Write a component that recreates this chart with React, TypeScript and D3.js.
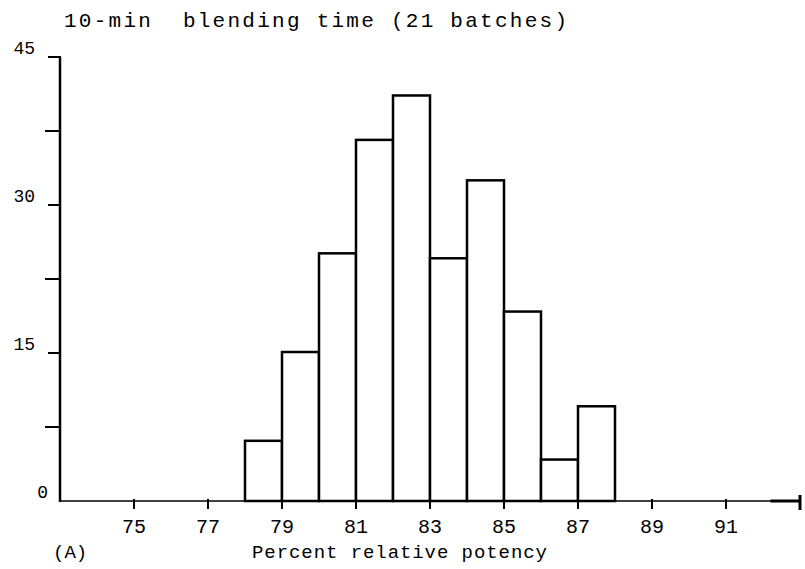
import React from "react";
import * as d3 from "d3";

const binStarts = [78, 79, 80, 81, 82, 83, 84, 85, 86, 87];
const percents = [6.1, 15.1, 25.1, 36.6, 41.1, 24.6, 32.5, 19.2, 4.2, 9.6];
const xTickValues = [75, 77, 79, 81, 83, 85, 87, 89, 91];
const yTickLabels = [0, 15, 30, 45];
const yMinorTicks = [7.5, 22.5, 37.5];
const titleText = "10-min  blending time (21 batches)";
const xAxisTitle = "Percent relative potency";
const panelLabel = "(A)";

const W = 805;
const H = 569;
const FONT = "'Liberation Mono', 'DejaVu Sans Mono', monospace";

export default function App() {
  const x = d3.scaleLinear().domain([73, 93]).range([60, 800]);
  const y = d3.scaleLinear().domain([0, 45]).range([501, 57]);
  const bins = binStarts.map((b, i) => ({ x0: b, x1: b + 1, v: percents[i] }));

  return (
    <svg
      width={W}
      height={H}
      viewBox={`0 0 ${W} ${H}`}
      style={{ position: "absolute", left: 0, top: 0, background: "#fff" }}
    >
      <rect x={0} y={0} width={W} height={H} fill="#fff" />
      <text
        x={64}
        y={27}
        fontFamily={FONT}
        fontSize={21}
        textLength={503}
        lengthAdjust="spacing"
        fill="#000"
        xmlSpace="preserve"
        style={{ whiteSpace: "pre" }}
      >
        {titleText}
      </text>

      {/* bars */}
      {bins.map((d, i) => (
        <rect
          key={i}
          x={x(d.x0)}
          y={y(d.v)}
          width={x(d.x1) - x(d.x0)}
          height={y(0) - y(d.v)}
          fill="#fff"
          stroke="#000"
          strokeWidth={2.5}
        />
      ))}

      {/* x axis */}
      <line x1={x(73)} x2={x(93)} y1={y(0)} y2={y(0)} stroke="#000" strokeWidth={1.6} />
      <line x1={x(92.2)} x2={x(93)} y1={y(0)} y2={y(0)} stroke="#000" strokeWidth={3} />
      <line x1={x(93)} x2={x(93)} y1={y(0) - 6} y2={y(0) + 9} stroke="#000" strokeWidth={3} />
      {xTickValues.map((t) => (
        <g key={t}>
          <line x1={x(t)} x2={x(t)} y1={y(0) - 2} y2={y(0) + 8} stroke="#000" strokeWidth={2} />
          <text
            x={x(t)}
            y={533}
            textAnchor="middle"
            fontFamily={FONT}
            fontSize={20}
            fill="#000"
          >
            {t}
          </text>
        </g>
      ))}
      <text x={53} y={558} fontFamily={FONT} fontSize={19} fill="#000">
        {panelLabel}
      </text>
      <text
        x={252}
        y={558}
        fontFamily={FONT}
        fontSize={19}
        textLength={295}
        lengthAdjust="spacing"
        fill="#000"
      >
        {xAxisTitle}
      </text>

      {/* y axis */}
      <line x1={60} x2={60} y1={y(45)} y2={y(0) + 1} stroke="#000" strokeWidth={2.5} />
      {yTickLabels.map((t) => (
        <g key={t}>
          {t > 0 && (
            <line x1={48} x2={61} y1={y(t)} y2={y(t)} stroke="#000" strokeWidth={2} />
          )}
          <text
            x={t === 0 ? 48 : 35}
            y={y(t) - 3}
            textAnchor="end"
            fontFamily={FONT}
            fontSize={18}
            fill="#000"
          >
            {t}
          </text>
        </g>
      ))}
      {yMinorTicks.map((t) => (
        <line key={t} x1={45} x2={61} y1={y(t)} y2={y(t)} stroke="#000" strokeWidth={2} />
      ))}
    </svg>
  );
}
